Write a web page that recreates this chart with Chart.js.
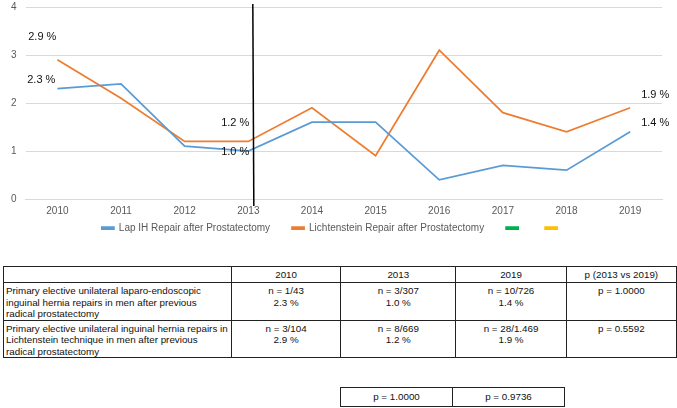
<!DOCTYPE html>
<html>
<head>
<meta charset="utf-8">
<script src="https://cdn.jsdelivr.net/npm/chart.js@4/dist/chart.umd.min.js"></script>
<style>
  body { margin: 0; background: #fff; width: 677px; height: 408px; position: relative; overflow: hidden; }
  #wrap { position: absolute; left: 0; top: -8px; width: 677px; height: 271px; }
  table { position: absolute; border-collapse: collapse; font-family: "Liberation Sans", Arial, sans-serif; font-size: 9.8px; color: #111; }
  td { border: 1px solid #222; vertical-align: top; padding: 2px 2px 0 2px; line-height: 11.5px; text-align: center; }
  td.lbl { text-align: left; white-space: nowrap; }
  #t1 { left: 3px; top: 266px; }
  #t2 { left: 340px; top: 387px; }
  #t2 td { height: 18px; vertical-align: middle; padding: 0; }
</style>
</head>
<body>
<div id="wrap"><canvas id="rateChart"></canvas></div>

<table id="t1">
  <tr style="height:16px"><td class="lbl" style="width:223px"></td><td style="width:105px">2010</td><td style="width:111px">2013</td><td style="width:106px">2019</td><td style="width:106px">p (2013 vs 2019)</td></tr>
  <tr style="height:35px"><td class="lbl">Primary elective unilateral laparo-endoscopic<br>inguinal hernia repairs in men after previous<br>radical prostatectomy</td><td>n = 1/43<br>2.3 %</td><td>n = 3/307<br>1.0 %</td><td>n = 10/726<br>1.4 %</td><td>p = 1.0000</td></tr>
  <tr style="height:35px"><td class="lbl">Primary elective unilateral inguinal hernia repairs in<br>Lichtenstein technique in men after previous<br>radical prostatectomy</td><td>n = 3/104<br>2.9 %</td><td>n = 8/669<br>1.2 %</td><td>n = 28/1.469<br>1.9 %</td><td>p = 0.5592</td></tr>
</table>

<table id="t2">
  <tr><td style="width:111px">p = 1.0000</td><td style="width:111px">p = 0.9736</td></tr>
</table>

<script>
const years = ['2010', '2011', '2012', '2013', '2014', '2015', '2016', '2017', '2018', '2019'];
const lapRates = [2.3, 2.4, 1.1, 1.0, 1.6, 1.6, 0.4, 0.7, 0.6, 1.4];
const lichtRates = [2.9, 2.1, 1.2, 1.2, 1.9, 0.9, 3.1, 1.8, 1.4, 1.9];
const yTicks = [0, 1, 2, 3, 4];
const markerYear = '2013';

// which points get a percent label, and where the label sits
const pointLabels = [
    { ds: 1, i: 0, dx: -1, dy: -23, align: 'right' },
    { ds: 0, i: 0, dx: -2, dy: -9, align: 'right' },
    { ds: 1, i: 3, dx: 1, dy: -18, align: 'right' },
    { ds: 0, i: 3, dx: 1, dy: 1, align: 'right' },
    { ds: 1, i: 9, dx: 11, dy: -13, align: 'left' },
    { ds: 0, i: 9, dx: 11, dy: -9, align: 'left' },
];

const extras = {
    id: 'extras',
    afterLayout(chart) {
        // legend padding is wide for the item gaps, pull it up closer to the axis
        chart.legend.top -= 20;
        chart.legend.bottom -= 20;
    },
    afterDatasetsDraw(chart) {
        const ctx = chart.ctx;
        const x = chart.scales.x;
        const y = chart.scales.y;
        const area = chart.chartArea;
        ctx.save();
        // vertical marker line
        const mx = x.getPixelForValue(years.indexOf(markerYear)) + 5;
        ctx.strokeStyle = '#000';
        ctx.lineWidth = 1.5;
        ctx.beginPath();
        ctx.moveTo(mx - 0.5, area.top - 3);
        ctx.lineTo(mx + 0.5, area.bottom + 7);
        ctx.stroke();
        // percent labels
        ctx.fillStyle = '#111';
        ctx.font = '11px "Liberation Sans", Arial, sans-serif';
        ctx.textBaseline = 'middle';
        pointLabels.forEach(p => {
            const v = chart.data.datasets[p.ds].data[p.i];
            ctx.textAlign = p.align;
            ctx.fillText(v.toFixed(1) + ' %', x.getPixelForValue(p.i) + p.dx, y.getPixelForValue(v) + p.dy);
        });
        ctx.restore();
    }
};

const tickFont = { family: '"Liberation Sans", Arial', size: 10 };

const ctx = document.getElementById('rateChart').getContext('2d');
new Chart(ctx, {
    type: 'line',
    data: {
        labels: years,
        datasets: [
            { label: 'Lap IH Repair after Prostatectomy', data: lapRates, borderColor: '#5b9bd5', backgroundColor: '#5b9bd5' },
            { label: 'Lichtenstein Repair after Prostatectomy', data: lichtRates, borderColor: '#ed7d31', backgroundColor: '#ed7d31' },
            { label: '', data: [], borderColor: '#00b050', backgroundColor: '#00b050' },
            { label: '', data: [], borderColor: '#ffc000', backgroundColor: '#ffc000' },
        ]
    },
    options: {
        responsive: true,
        maintainAspectRatio: false,
        animation: false,
        layout: { padding: { top: 0, right: 15, left: 2, bottom: 0 } },
        elements: {
            line: { borderWidth: 1.75, tension: 0 },
            point: { radius: 0 }
        },
        scales: {
            x: {
                offset: true,
                grid: { display: false, drawTicks: false },
                border: { color: '#d9d9d9' },
                ticks: { color: '#595959', font: tickFont, padding: 6 },
                afterFit: axis => { axis.height -= 2; }
            },
            y: {
                min: 0,
                max: 4,
                afterBuildTicks: axis => { axis.ticks = yTicks.map(v => ({ value: v })); },
                grid: { color: '#d9d9d9', drawTicks: false },
                border: { display: false },
                ticks: { color: '#595959', font: tickFont, padding: 9 }
            }
        },
        plugins: {
            legend: {
                position: 'bottom',
                labels: {
                    boxWidth: 12,
                    boxHeight: 2,
                    padding: 22,
                    color: '#595959',
                    font: tickFont
                }
            },
            tooltip: { enabled: false }
        }
    },
    plugins: [extras]
});
</script>
</body>
</html>
